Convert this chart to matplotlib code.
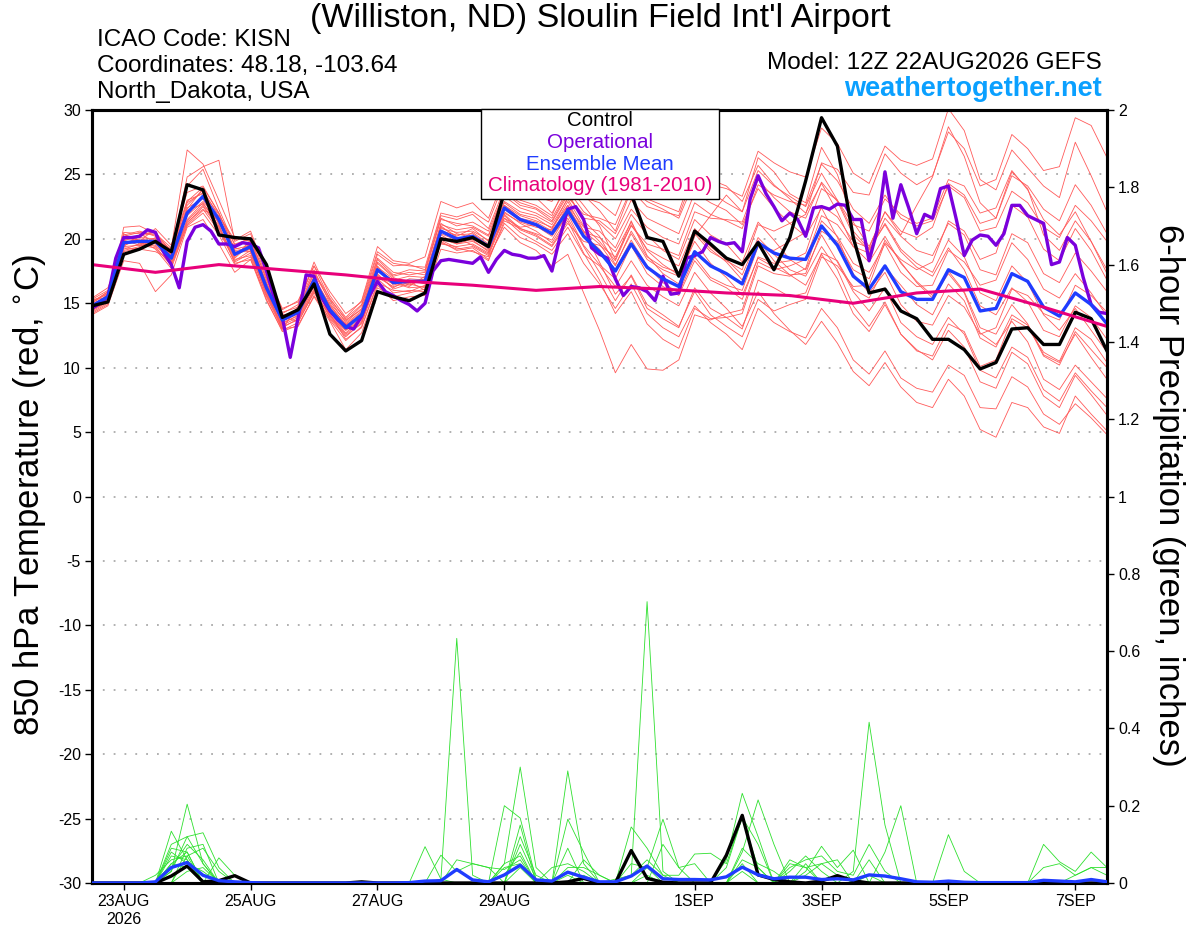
import numpy as np
import matplotlib
matplotlib.use('Agg')
import matplotlib.pyplot as plt
from matplotlib.patches import Rectangle

plt.rcParams['font.family'] = ['Liberation Sans', 'DejaVu Sans']

# forecast hours from 12Z 22AUG2026 (6-hourly ensemble, 3-hourly operational)
hours = np.arange(0, 385, 6)
hours_op = np.arange(0, 385, 3)

tick_hours = [12, 60, 108, 156, 228, 276, 324, 372]
tick_labels = ['23AUG\n2026', '25AUG', '27AUG', '29AUG', '1SEP', '3SEP', '5SEP', '7SEP']

control_t = [14.8, 15.1, 18.8, 19.2, 19.8, 19.0, 24.2, 23.8, 20.3, 20.1,
             20.0, 18.0, 13.9, 14.5, 16.5, 12.6, 11.3, 12.1, 15.9, 15.5,
             15.2, 15.8, 20.0, 19.8, 20.1, 19.4, 23.6, 24.6, 25.2, 24.4,
             25.0, 25.4, 24.8, 24.3, 23.5, 20.1, 19.8, 17.1, 20.6, 19.6,
             18.5, 18.0, 19.7, 17.6, 20.1, 24.5, 29.4, 27.2, 20.1, 15.8,
             16.1, 14.4, 13.8, 12.2, 12.2, 11.4, 9.9, 10.4, 13.0, 13.1,
             11.8, 11.8, 14.3, 13.8, 11.3]

operational_t = [14.6, 15.0, 15.5, 18.5, 20.1, 20.1, 20.2, 20.7, 20.5, 19.0,
                 18.0, 16.2, 19.8, 20.9, 21.1, 20.6, 19.6, 19.6, 19.4, 19.7,
                 19.6, 19.3, 17.5, 15.4, 13.9, 10.8, 13.9, 17.2, 17.1, 15.4,
                 14.4, 13.7, 13.2, 13.0, 14.0, 15.6, 16.7, 15.9, 15.6, 15.2,
                 14.9, 14.4, 15.0, 17.5, 18.3, 18.4, 18.3, 18.2, 18.1, 18.6,
                 17.4, 18.4, 19.1, 18.8, 18.7, 18.5, 18.5, 18.7, 17.5, 20.1,
                 22.3, 22.5, 21.5, 19.3, 18.8, 18.5, 16.9, 15.6, 16.3, 16.2,
                 15.9, 15.2, 17.1, 15.7, 15.8, 18.5, 18.7, 19.0, 20.1, 19.8,
                 19.6, 19.7, 19.0, 23.1, 24.9, 23.5, 22.5, 21.4, 22.0, 21.5,
                 20.2, 22.4, 22.5, 22.3, 22.7, 22.6, 21.5, 21.5, 18.3, 20.6,
                 25.2, 21.6, 24.2, 22.4, 20.4, 21.9, 21.6, 23.9, 24.1, 21.5,
                 18.7, 19.9, 20.3, 20.2, 19.5, 20.4, 22.6, 22.6, 21.8, 21.5,
                 21.2, 18.0, 18.2, 20.1, 19.5, 17.0, 14.9, 14.3, 14.2]

mean_t = [14.8, 15.5, 19.7, 19.8, 19.8, 18.5, 22.0, 23.3, 21.5, 18.8,
          19.4, 16.2, 13.7, 14.3, 16.8, 14.5, 13.1, 14.1, 17.6, 16.6,
          16.7, 16.7, 20.6, 20.0, 20.2, 19.4, 22.4, 21.5, 21.1, 20.4,
          22.2, 20.2, 19.0, 17.5, 19.6, 17.8, 16.9, 16.3, 19.0, 17.9,
          17.3, 16.5, 19.7, 18.9, 18.5, 18.4, 21.0, 19.5, 17.1, 16.1,
          17.9, 15.9, 15.3, 15.3, 17.6, 17.0, 14.4, 14.6, 17.3, 16.7,
          14.7, 14.0, 15.8, 14.9, 13.4]

clim_hours = np.arange(0, 385, 24)
clim_t = [18.0, 17.4, 18.0, 17.6, 17.2, 16.7, 16.4, 16.0, 16.3,
          16.1, 15.8, 15.6, 15.0, 15.8, 16.1, 14.7, 13.2]

red_members = [
    [14.5, 15.2, 20.3, 20.6, 20.2, 18.9, 24.1, 25.4, 22.3, 19.5, 20.1, 16.8, 14.2, 14.9, 17.6, 15.0, 13.6, 14.8, 18.5, 17.4,
     17.2, 17.4, 21.5, 21.2, 21.0, 20.3, 23.6, 22.8, 22.4, 21.6, 23.8, 22.1, 21.2, 20.0, 22.3, 20.9, 20.1, 19.6, 22.8, 21.9,
     21.4, 20.8, 24.2, 23.4, 22.9, 22.6, 25.8, 24.5, 22.3, 21.2, 23.4, 21.6, 21.0, 21.4, 24.1, 23.2, 20.6, 20.9, 23.7, 22.8,
     20.9, 20.1, 22.6, 21.4, 19.8],
    [15.0, 15.8, 19.4, 19.5, 19.3, 18.0, 21.2, 22.5, 20.8, 18.2, 18.9, 15.6, 13.1, 13.8, 16.1, 13.9, 12.5, 13.4, 16.9, 15.8,
     16.0, 15.9, 19.8, 19.1, 19.3, 18.4, 21.2, 20.1, 19.6, 18.8, 20.4, 18.1, 16.5, 14.6, 16.5, 14.2, 13.1, 12.4, 14.8, 13.5,
     12.6, 11.4, 14.6, 13.5, 12.8, 12.3, 14.6, 13.1, 10.6, 9.5, 11.3, 9.2, 8.4, 8.1, 10.2, 9.4, 6.9, 6.8, 9.3, 8.5,
     6.4, 5.6, 7.2, 6.1, 4.8],
    [14.2, 14.9, 20.9, 21.0, 20.4, 19.3, 26.9, 25.8, 23.0, 20.1, 19.8, 16.0, 13.0, 14.8, 18.2, 15.6, 13.9, 15.2, 19.4, 18.3,
     18.1, 18.6, 22.9, 22.4, 22.8, 21.6, 24.8, 23.5, 23.2, 22.0, 24.1, 22.6, 21.0, 18.4, 21.4, 18.7, 17.3, 16.5, 20.2, 21.8,
     23.4, 22.1, 26.3, 25.2, 23.5, 22.8, 27.1, 25.0, 21.3, 19.4, 22.1, 20.3, 22.6, 24.8, 28.7, 26.4, 22.8, 21.6, 25.2, 23.9,
     20.3, 19.1, 21.4, 19.8, 17.6],
    [15.3, 16.0, 19.1, 19.4, 19.9, 18.2, 21.5, 22.8, 21.0, 18.5, 19.6, 16.6, 13.9, 13.6, 15.8, 14.1, 12.7, 13.8, 17.3, 16.1,
     16.5, 16.2, 20.3, 19.6, 19.8, 19.1, 22.0, 21.3, 20.9, 20.7, 22.9, 20.6, 18.2, 15.7, 17.1, 14.6, 13.8, 13.1, 16.2, 14.6,
     13.9, 13.0, 16.8, 16.2, 15.5, 15.8, 18.9, 18.3, 16.1, 15.4, 17.8, 16.4, 14.9, 14.1, 16.5, 15.2, 12.3, 11.6, 14.1, 13.3,
     10.9, 10.2, 12.8, 11.4, 10.0],
    [14.7, 15.4, 20.0, 20.2, 20.5, 19.0, 24.8, 25.6, 26.1, 19.8, 20.4, 17.0, 14.5, 15.2, 17.9, 15.3, 13.8, 14.9, 18.8, 17.9,
     18.0, 17.6, 21.8, 21.5, 21.9, 20.8, 23.9, 23.0, 22.6, 21.8, 24.6, 23.4, 22.2, 20.6, 23.8, 22.5, 22.1, 21.8, 25.1, 24.2,
     23.9, 23.3, 26.8, 25.9, 25.2, 24.8, 28.6, 27.4, 25.1, 24.3, 27.2, 26.1, 25.7, 26.2, 30.1, 28.4, 24.6, 23.8, 26.9, 25.5,
     24.1, 23.2, 27.5, 24.9, 22.1],
    [14.9, 15.6, 19.5, 19.9, 19.6, 18.6, 22.6, 23.8, 21.7, 19.0, 19.0, 15.9, 13.5, 14.0, 16.4, 14.3, 12.9, 13.9, 17.8, 16.9,
     16.4, 16.9, 20.8, 20.5, 20.6, 19.9, 22.9, 22.1, 21.8, 21.1, 23.1, 21.0, 19.8, 18.3, 21.1, 19.2, 18.5, 17.9, 20.8, 19.4,
     18.4, 17.2, 20.1, 18.8, 17.6, 17.1, 19.4, 17.6, 14.8, 13.2, 15.1, 12.6, 11.3, 10.9, 13.4, 12.8, 10.1, 10.6, 13.8, 13.1,
     11.2, 10.5, 13.1, 12.2, 10.4],
    [15.1, 15.9, 19.8, 19.7, 19.4, 17.9, 21.0, 22.0, 20.3, 18.0, 18.6, 15.3, 12.8, 13.3, 15.5, 13.6, 11.4, 12.7, 16.2, 15.5,
     15.8, 16.1, 19.9, 19.3, 19.0, 18.6, 20.9, 19.7, 19.1, 17.9, 18.8, 15.8, 12.9, 9.6, 11.8, 9.9, 9.8, 10.6, 14.1, 13.7,
     14.2, 14.5, 18.2, 17.6, 17.9, 18.4, 21.8, 21.1, 19.4, 18.9, 21.6, 20.2, 19.1, 18.7, 21.2, 20.3, 17.6, 17.2, 20.4, 19.7,
     17.3, 16.6, 18.9, 17.5, 15.9],
    [14.4, 15.1, 19.9, 20.1, 20.0, 18.7, 22.4, 23.1, 21.2, 18.9, 19.3, 16.4, 13.8, 14.5, 17.1, 14.8, 13.4, 14.4, 17.9, 16.4,
     16.8, 16.5, 20.1, 19.8, 20.5, 19.6, 22.6, 21.8, 21.4, 20.9, 22.6, 20.9, 20.6, 19.3, 21.9, 20.3, 19.1, 18.4, 21.5, 20.3,
     19.6, 18.2, 21.3, 19.9, 18.4, 17.6, 20.3, 18.2, 15.9, 14.4, 16.2, 13.5, 12.4, 11.8, 13.9, 12.6, 9.8, 9.2, 11.6, 10.8,
     8.3, 7.4, 9.6, 8.2, 6.9],
    [15.4, 16.2, 19.3, 19.2, 19.0, 18.4, 21.8, 22.9, 21.6, 18.6, 19.9, 16.9, 14.0, 14.4, 16.7, 14.6, 13.2, 14.0, 17.2, 16.2,
     16.9, 16.8, 21.2, 20.4, 20.1, 19.2, 22.1, 21.2, 20.6, 19.7, 21.6, 19.4, 17.4, 15.2, 17.2, 14.9, 14.1, 13.2, 15.9, 14.1,
     13.2, 12.4, 15.3, 14.4, 14.9, 15.3, 18.6, 17.9, 16.3, 16.4, 19.7, 18.4, 17.6, 18.2, 21.4, 20.6, 18.4, 18.9, 22.6, 21.7,
     19.2, 18.3, 20.8, 19.1, 16.8],
    [14.6, 15.3, 20.5, 20.4, 19.7, 18.1, 21.4, 22.6, 20.9, 18.4, 18.7, 15.7, 13.3, 13.9, 16.3, 14.2, 12.2, 13.1, 16.6, 16.0,
     15.9, 16.4, 19.6, 19.4, 19.6, 18.9, 21.8, 20.7, 20.2, 19.4, 21.2, 19.8, 19.5, 18.6, 21.0, 19.6, 19.2, 18.7, 22.1, 21.6,
     21.5, 21.3, 24.6, 23.2, 22.1, 21.6, 24.4, 22.9, 20.3, 19.1, 21.2, 19.2, 18.1, 17.4, 19.9, 18.6, 15.8, 15.2, 17.9, 16.6,
     14.1, 12.9, 14.6, 12.9, 11.2],
    [14.3, 15.0, 19.6, 19.8, 20.8, 19.5, 23.6, 24.1, 22.0, 19.2, 19.5, 16.3, 13.6, 14.2, 16.6, 14.4, 13.0, 14.2, 18.2, 17.1,
     17.4, 17.2, 21.1, 20.7, 20.9, 20.2, 23.3, 22.4, 22.0, 21.3, 23.4, 21.6, 21.4, 20.4, 23.0, 21.6, 21.0, 20.4, 23.6, 22.8,
     22.2, 21.1, 23.9, 22.4, 21.2, 20.2, 22.4, 20.1, 17.3, 15.8, 17.4, 14.9, 13.6, 13.3, 15.6, 14.7, 12.6, 13.1, 16.1, 15.6,
     14.2, 13.7, 16.4, 15.6, 14.3],
    [15.2, 15.7, 19.2, 19.6, 19.5, 18.3, 21.3, 22.3, 20.6, 18.3, 19.1, 16.0, 13.4, 14.1, 16.5, 14.0, 12.6, 13.6, 17.0, 16.3,
     16.6, 16.6, 20.4, 19.9, 19.9, 19.0, 21.6, 20.5, 19.8, 19.1, 20.9, 18.8, 17.9, 16.3, 18.3, 16.4, 15.5, 14.8, 17.4, 15.8,
     14.6, 13.2, 15.9, 14.2, 12.9, 11.8, 13.6, 11.9, 9.7, 8.6, 10.4, 8.5, 7.3, 6.9, 9.1, 7.8, 5.2, 4.6, 7.3, 6.9,
     5.4, 4.9, 7.8, 6.4, 5.1],
    [14.8, 15.5, 19.7, 20.0, 19.8, 18.8, 22.9, 24.0, 22.0, 19.1, 19.2, 16.1, 13.9, 14.6, 17.3, 15.2, 13.5, 14.6, 18.1, 17.0,
     16.5, 16.9, 20.6, 20.3, 20.4, 19.5, 22.8, 21.9, 21.6, 20.8, 23.2, 21.9, 21.6, 21.1, 23.9, 22.9, 22.3, 21.6, 24.5, 23.6,
     22.8, 22.1, 25.3, 24.1, 23.3, 22.5, 25.1, 23.0, 20.6, 19.2, 21.1, 19.0, 17.8, 17.1, 19.3, 17.6, 14.8, 14.1, 16.2, 15.1,
     12.9, 12.4, 14.8, 13.9, 12.2],
    [14.9, 15.5, 19.9, 19.5, 20.1, 18.5, 21.9, 23.4, 21.4, 18.7, 19.7, 16.6, 14.1, 14.3, 16.9, 14.9, 13.3, 14.3, 17.6, 16.6,
     16.2, 16.3, 20.0, 19.6, 20.0, 19.3, 22.3, 21.4, 21.0, 20.2, 21.9, 19.5, 18.0, 16.9, 19.5, 17.3, 16.3, 15.6, 18.3, 16.8,
     16.2, 15.3, 18.6, 18.1, 18.3, 18.9, 22.6, 21.7, 19.8, 19.3, 22.1, 20.6, 20.1, 20.9, 24.3, 23.4, 21.2, 21.6, 24.9, 24.1,
     22.3, 21.4, 24.2, 22.6, 20.4],
    [14.1, 14.8, 18.3, 18.1, 15.9, 17.2, 20.9, 21.5, 19.6, 17.4, 18.4, 15.2, 12.9, 13.5, 15.9, 13.7, 12.1, 13.2, 16.4, 15.2,
     15.5, 15.6, 19.2, 18.9, 19.1, 18.3, 21.4, 20.8, 20.4, 19.9, 22.0, 20.5, 20.1, 19.0, 21.3, 19.1, 18.0, 17.2, 19.8, 18.1,
     17.0, 15.6, 18.5, 17.8, 17.2, 17.3, 20.6, 19.8, 17.6, 16.9, 19.9, 18.2, 16.6, 15.4, 17.3, 15.8, 12.7, 11.8, 13.6, 12.0,
     9.1, 8.3, 10.2, 8.9, 7.6],
    [15.0, 15.9, 20.2, 20.5, 20.3, 19.1, 22.8, 23.6, 21.9, 19.6, 20.0, 16.4, 14.3, 14.7, 17.4, 15.4, 13.7, 14.5, 18.4, 17.2,
     17.6, 17.5, 21.6, 21.0, 21.3, 20.6, 23.6, 22.6, 22.3, 21.4, 23.6, 21.4, 20.2, 18.0, 20.4, 18.4, 17.6, 17.1, 20.4, 19.0,
     18.3, 17.6, 21.1, 20.6, 21.2, 21.9, 25.9, 25.4, 23.6, 23.4, 26.6, 25.1, 24.2, 24.9, 28.3, 27.0, 24.1, 24.6, 28.1, 27.0,
     25.3, 25.6, 29.4, 28.8, 26.3],
    [14.6, 15.6, 19.4, 20.3, 20.6, 18.4, 22.2, 22.7, 21.3, 19.3, 19.0, 15.8, 13.2, 13.7, 16.0, 14.0, 12.9, 13.7, 17.5, 16.8,
     17.1, 17.0, 21.0, 20.1, 19.5, 18.8, 21.9, 20.8, 20.3, 19.5, 21.4, 18.9, 16.8, 14.2, 15.9, 13.4, 12.2, 11.5, 14.6, 13.8,
     13.9, 14.2, 17.9, 17.3, 17.1, 17.7, 21.4, 20.2, 18.1, 17.4, 19.6, 17.4, 16.3, 16.4, 19.1, 18.2, 16.4, 16.8, 19.7, 18.4,
     16.1, 15.4, 17.3, 15.8, 14.0],
    [15.3, 15.4, 20.1, 19.9, 19.2, 17.7, 21.1, 22.2, 21.8, 19.9, 20.6, 17.3, 14.6, 15.1, 17.9, 15.9, 14.2, 15.1, 19.0, 18.1,
     17.9, 17.8, 22.0, 21.7, 22.1, 21.3, 24.4, 23.6, 23.3, 22.9, 25.0, 23.2, 22.8, 21.8, 24.8, 23.1, 22.6, 22.1, 25.6, 24.6,
     24.1, 22.9, 25.7, 24.2, 23.1, 22.0, 24.3, 22.1, 19.4, 18.2, 20.2, 18.1, 16.7, 15.6, 17.5, 15.9, 13.1, 12.6, 14.9, 13.4,
     11.0, 10.4, 12.6, 10.8, 9.1],
    [14.5, 15.1, 19.0, 19.3, 19.7, 18.9, 22.3, 23.9, 21.1, 18.1, 18.4, 15.5, 13.0, 13.2, 15.6, 13.8, 12.4, 13.5, 17.1, 16.5,
     16.7, 16.0, 19.7, 19.2, 19.4, 18.7, 21.6, 20.9, 21.1, 20.4, 22.6, 20.3, 19.2, 17.6, 19.9, 17.9, 16.6, 15.8, 18.6, 17.0,
     16.4, 16.0, 19.4, 19.1, 19.8, 20.5, 23.9, 23.0, 21.1, 20.6, 23.1, 21.9, 21.2, 21.6, 24.6, 24.1, 22.0, 22.4, 25.3, 23.8,
     21.5, 20.3, 22.1, 19.8, 17.3],
    [14.8, 15.7, 20.4, 19.6, 20.0, 19.2, 23.0, 23.5, 21.5, 18.8, 19.2, 16.5, 13.7, 14.4, 17.0, 14.7, 13.3, 14.1, 17.7, 16.7,
     16.3, 17.1, 20.9, 20.2, 20.8, 19.8, 22.6, 21.6, 21.3, 20.6, 22.4, 20.6, 19.6, 17.9, 20.6, 18.6, 17.8, 17.4, 20.6, 19.2,
     18.2, 16.8, 19.9, 18.3, 17.2, 16.4, 18.8, 16.9, 14.2, 12.8, 14.9, 12.6, 11.4, 10.6, 12.9, 11.6, 8.9, 8.4, 11.2, 10.3,
     7.8, 6.9, 9.4, 7.9, 6.3],
]

control_p = [0, 0, 0, 0, 0, 0.018, 0.044, 0.003, 0.006, 0.019,
             0, 0, 0, 0, 0, 0, 0, 0.003, 0, 0,
             0, 0, 0, 0, 0, 0, 0, 0, 0, 0,
             0.003, 0.012, 0, 0, 0.084, 0.012, 0.002, 0, 0, 0,
             0.072, 0.175, 0.021, 0.009, 0.003, 0, 0.005, 0.019, 0.006, 0,
             0, 0, 0, 0, 0, 0, 0, 0, 0, 0,
             0, 0, 0, 0, 0]

mean_p = [0, 0, 0, 0, 0.003, 0.04, 0.053, 0.02, 0.006, 0.003,
          0.001, 0, 0, 0, 0, 0, 0, 0, 0, 0,
          0.001, 0.005, 0.006, 0.035, 0.008, 0.003, 0.021, 0.046, 0.008, 0.005,
          0.028, 0.015, 0.003, 0.003, 0.018, 0.044, 0.011, 0.009, 0.009, 0.008,
          0.016, 0.041, 0.021, 0.011, 0.015, 0.015, 0.009, 0.011, 0.008, 0.021,
          0.018, 0.011, 0.003, 0.002, 0.005, 0.002, 0.001, 0.001, 0.001, 0.001,
          0.007, 0.005, 0.003, 0.009, 0.003]

green_members = [
    [0, 0, 0, 0, 0, 0.05, 0.08, 0, 0, 0, 0, 0, 0, 0, 0, 0, 0, 0, 0, 0,
     0, 0, 0.01, 0.633, 0.02, 0, 0, 0.04, 0, 0, 0, 0, 0, 0, 0, 0.02, 0, 0, 0, 0,
     0, 0.05, 0, 0, 0, 0, 0, 0, 0, 0.02, 0, 0, 0, 0, 0, 0, 0, 0, 0, 0, 0, 0, 0, 0, 0],
    [0, 0, 0, 0, 0, 0.134, 0.06, 0, 0, 0, 0, 0, 0, 0, 0, 0, 0, 0, 0, 0,
     0, 0, 0, 0, 0, 0, 0.02, 0.08, 0, 0, 0, 0, 0, 0, 0.02, 0.728, 0.03, 0, 0, 0,
     0, 0.03, 0, 0, 0, 0.05, 0, 0, 0, 0, 0, 0, 0, 0, 0, 0, 0, 0, 0, 0, 0, 0, 0, 0, 0],
    [0, 0, 0, 0, 0, 0.03, 0.204, 0.05, 0, 0, 0, 0, 0, 0, 0, 0, 0, 0, 0, 0,
     0, 0, 0, 0, 0, 0, 0, 0, 0, 0, 0.02, 0, 0, 0, 0, 0, 0, 0, 0, 0,
     0, 0.06, 0.04, 0, 0, 0, 0, 0, 0.03, 0.416, 0.15, 0, 0, 0, 0, 0, 0, 0, 0, 0, 0, 0, 0, 0, 0],
    [0, 0, 0, 0, 0, 0.1, 0.12, 0.13, 0.04, 0, 0, 0, 0, 0, 0, 0, 0, 0, 0, 0,
     0, 0, 0, 0, 0, 0, 0.05, 0.30, 0.04, 0, 0, 0, 0, 0, 0, 0, 0, 0, 0, 0,
     0.06, 0.232, 0.12, 0, 0, 0, 0, 0, 0, 0, 0, 0, 0, 0, 0, 0, 0, 0, 0, 0, 0, 0, 0, 0, 0],
    [0, 0, 0, 0, 0, 0, 0.09, 0.1, 0, 0, 0, 0, 0, 0, 0, 0, 0, 0, 0, 0,
     0, 0, 0.072, 0.03, 0.05, 0.04, 0, 0, 0, 0, 0.29, 0.05, 0, 0, 0, 0, 0, 0, 0, 0,
     0, 0, 0, 0, 0.03, 0.07, 0.03, 0, 0, 0, 0, 0, 0, 0, 0, 0, 0, 0, 0, 0, 0, 0, 0, 0, 0],
    [0, 0, 0, 0, 0, 0.09, 0.08, 0, 0, 0, 0, 0, 0, 0, 0, 0, 0, 0, 0, 0,
     0, 0, 0, 0, 0, 0, 0.2, 0.168, 0.01, 0, 0.165, 0.08, 0, 0, 0, 0.04, 0.165, 0.04, 0, 0,
     0, 0, 0, 0, 0, 0, 0, 0, 0, 0, 0.08, 0.2, 0, 0, 0, 0, 0, 0, 0, 0, 0, 0, 0, 0, 0],
    [0, 0, 0, 0, 0, 0.07, 0.06, 0, 0.065, 0.02, 0, 0, 0, 0, 0, 0, 0, 0, 0, 0,
     0, 0.094, 0.01, 0, 0, 0, 0, 0.15, 0, 0, 0, 0, 0, 0, 0, 0, 0, 0, 0, 0,
     0, 0.08, 0.215, 0.1, 0, 0, 0, 0, 0, 0, 0, 0, 0, 0, 0, 0, 0, 0, 0, 0, 0, 0, 0, 0, 0],
    [0, 0, 0, 0, 0, 0.05, 0.04, 0, 0, 0, 0, 0, 0, 0, 0, 0, 0, 0, 0, 0,
     0, 0, 0, 0, 0, 0, 0, 0, 0, 0.04, 0.05, 0.03, 0, 0, 0, 0, 0, 0, 0, 0,
     0, 0, 0, 0, 0, 0, 0, 0, 0, 0, 0, 0, 0, 0, 0.125, 0.03, 0, 0, 0, 0, 0.1, 0.055, 0.03, 0.08, 0.04],
    [0, 0, 0, 0, 0, 0.04, 0.1, 0.06, 0, 0, 0, 0, 0, 0, 0, 0, 0, 0, 0, 0,
     0, 0, 0, 0, 0, 0, 0.04, 0.05, 0, 0, 0, 0, 0, 0, 0, 0, 0, 0, 0, 0,
     0, 0, 0, 0, 0, 0.03, 0.095, 0.04, 0.085, 0, 0, 0, 0, 0, 0, 0, 0, 0, 0, 0, 0.04, 0.05, 0.02, 0.04, 0.04],
    [0, 0, 0, 0, 0, 0, 0.07, 0, 0, 0, 0, 0, 0, 0, 0, 0, 0, 0, 0, 0,
     0, 0, 0, 0, 0, 0, 0, 0, 0, 0, 0, 0, 0, 0, 0.145, 0.09, 0.02, 0.02, 0.075, 0.077,
     0.05, 0.17, 0.1, 0, 0.06, 0.04, 0, 0, 0, 0, 0, 0, 0, 0, 0, 0, 0, 0, 0, 0, 0, 0, 0, 0, 0],
    [0, 0, 0, 0, 0, 0.08, 0.05, 0.03, 0, 0, 0, 0, 0, 0, 0, 0, 0, 0, 0, 0,
     0, 0, 0, 0, 0, 0, 0, 0.12, 0.02, 0, 0.09, 0, 0, 0, 0, 0, 0.1, 0.04, 0.05, 0,
     0, 0, 0, 0, 0.04, 0.06, 0.07, 0.03, 0.02, 0.1, 0.03, 0, 0, 0, 0, 0, 0, 0, 0, 0, 0, 0, 0, 0, 0],
    [0, 0, 0, 0, 0.02, 0.06, 0.07, 0.09, 0.03, 0, 0, 0, 0, 0, 0, 0, 0, 0, 0, 0,
     0, 0, 0, 0.06, 0.05, 0.04, 0.035, 0.06, 0, 0, 0.04, 0.04, 0.02, 0, 0.05, 0.04, 0, 0, 0, 0,
     0, 0.09, 0.05, 0.03, 0, 0, 0, 0, 0, 0, 0, 0, 0, 0, 0, 0, 0, 0, 0, 0, 0, 0, 0, 0, 0],
    [0, 0, 0, 0, 0, 0.03, 0.12, 0.05, 0, 0, 0, 0, 0, 0, 0, 0, 0, 0, 0, 0,
     0, 0, 0, 0, 0, 0, 0.05, 0.07, 0, 0, 0, 0.06, 0.02, 0, 0, 0, 0, 0, 0, 0,
     0.04, 0.17, 0.04, 0, 0, 0.02, 0.05, 0.06, 0, 0.06, 0, 0, 0, 0, 0, 0, 0, 0, 0, 0, 0, 0, 0, 0, 0],
    [0, 0, 0, 0, 0, 0, 0.03, 0.04, 0, 0, 0, 0, 0, 0, 0, 0, 0, 0, 0, 0,
     0, 0, 0, 0, 0, 0, 0, 0.1, 0.01, 0, 0, 0.02, 0, 0.01, 0.02, 0.06, 0.02, 0, 0, 0,
     0, 0, 0, 0, 0.05, 0.04, 0.05, 0.02, 0, 0, 0, 0, 0, 0, 0, 0, 0, 0, 0, 0, 0, 0, 0.02, 0.04, 0.02],
]

legend_labels = ['Control', 'Operational', 'Ensemble Mean', 'Climatology (1981-2010)']
legend_colors = ['black', '#7a00dc', '#1f3cff', '#e8007a']

# %% figure
W, H = 1200, 927
fig = plt.figure(figsize=(12, 9.27), dpi=100)
ax = fig.add_axes([92 / W, 1 - 883 / H, 1015 / W, 773 / H])
ax2 = ax.twinx()

for m in red_members:
    ax.plot(hours, m, color='#ff5a5a', lw=0.6, zorder=2)
for m in green_members:
    ax2.plot(hours, m, color='#2ee02e', lw=0.6, zorder=2)

ax.plot(hours_op, operational_t, color='#7a00dc', lw=2.4, zorder=4)
ax.plot(hours, mean_t, color='#1f3cff', lw=2.4, zorder=5)
ax.plot(hours, control_t, color='black', lw=2.4, zorder=6)
ax.plot(clim_hours, clim_t, color='#e8007a', lw=2.2, zorder=7)

ax2.plot(hours, mean_p, color='#1f3cff', lw=2.4, zorder=5)
ax2.plot(hours, control_p, color='black', lw=2.4, zorder=4)

ax.set_xlim(0, 384)
ax.set_ylim(-30, 30)
ax2.set_ylim(0, 2)

ax.set_yticks(np.arange(-30, 31, 5))
ax.set_yticklabels([str(v) for v in range(-30, 31, 5)])
ax2.set_yticks(np.arange(0, 2.01, 0.2))
ax2.set_yticklabels([f'{v:g}' for v in np.round(np.arange(0, 2.01, 0.2), 1)])
ax.set_xticks(tick_hours)
ax.set_xticklabels(tick_labels)

ax.grid(axis='y', color='#aaaaaa', linestyle=(0, (1, 5)), linewidth=1.3)
ax.tick_params(axis='both', direction='out', length=5, width=1, labelsize=11.5, pad=3)
ax2.tick_params(axis='y', direction='out', length=5, width=1, labelsize=11.5, pad=3)
for a in (ax, ax2):
    for s in a.spines.values():
        s.set_linewidth(2.2)

# legend: white box with centred coloured labels
box = Rectangle((481 / W, 1 - 199 / H), 238 / W, 90 / H, transform=fig.transFigure,
                facecolor='white', edgecolor='black', lw=1.0, zorder=20, clip_on=False)
ax2.add_patch(box)
for k, (lab, col) in enumerate(zip(legend_labels, legend_colors)):
    ax2.text(600 / W, 1 - (121 + 21.6 * k) / H, lab, transform=fig.transFigure,
             ha='center', va='center', fontsize=14.8, color=col, zorder=21)

fig.text(30 / W, 1 - 495 / H, r'850 hPa Temperature (red, $^{\circ}$C)', rotation=90,
         ha='center', va='center', fontsize=25)
fig.text(1168 / W, 1 - 495 / H, '6-hour Precipitation (green, inches)', rotation=270,
         ha='center', va='center', fontsize=25)

fig.text(0.5, 1 - 19 / H, "(Williston, ND) Sloulin Field Int'l Airport", ha='center', va='center', fontsize=24.5)
fig.text(97 / W, 1 - 40 / H, 'ICAO Code: KISN', ha='left', va='center', fontsize=17.5)
fig.text(97 / W, 1 - 66 / H, 'Coordinates: 48.18, -103.64', ha='left', va='center', fontsize=17.5)
fig.text(97 / W, 1 - 92 / H, 'North_Dakota, USA', ha='left', va='center', fontsize=17.5)
fig.text(1102 / W, 1 - 63 / H, 'Model: 12Z 22AUG2026 GEFS', ha='right', va='center', fontsize=17.5)
fig.text(1102 / W, 1 - 89 / H, 'weathertogether.net', ha='right', va='center', fontsize=19.5,
         fontweight='bold', color='#0aa0ff')

fig.savefig('out.png', dpi=100)
